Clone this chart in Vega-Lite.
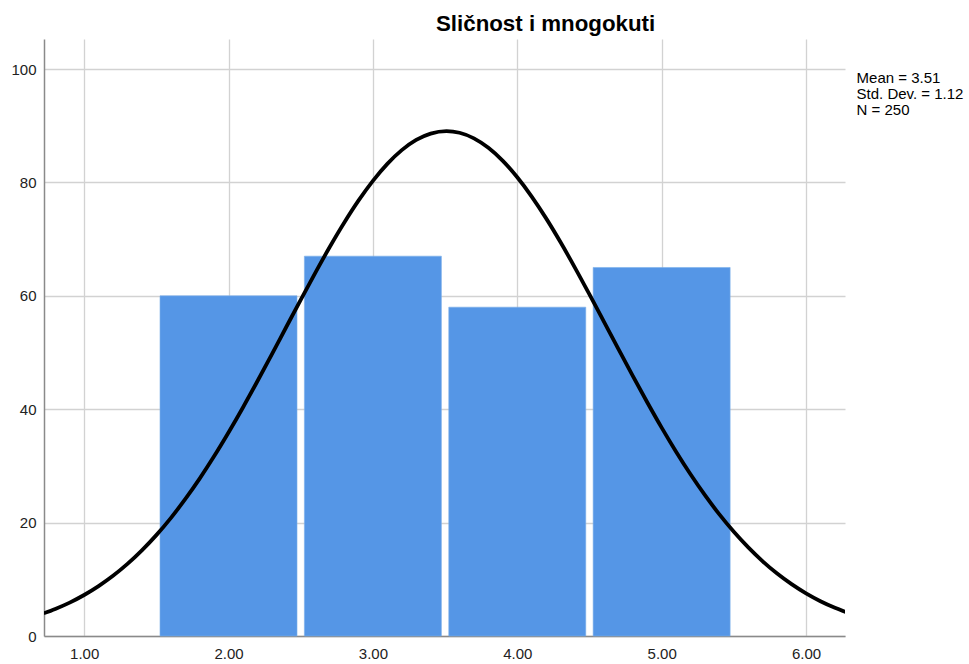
{
  "$schema": "https://vega.github.io/schema/vega-lite/v6.json",
  "width": 801,
  "height": 597,
  "autosize": {"type": "none"},
  "padding": {"left": 44, "top": 39, "right": 124, "bottom": 28},
  "background": "white",
  "title": {
    "text": "Sličnost i mnogokuti",
    "anchor": "start",
    "dx": 425,
    "offset": 4,
    "font": "Liberation Sans",
    "fontSize": 22.3,
    "fontWeight": "bold",
    "color": "#000000"
  },
  "config": {
    "view": {"stroke": null},
    "axis": {
      "labelFont": "Liberation Sans",
      "labelFontSize": 15,
      "labelColor": "#222222",
      "gridColor": "#d2d2d2",
      "gridWidth": 1.3,
      "domainColor": "#8a8a8a",
      "domainWidth": 1.5,
      "ticks": false,
      "title": null
    }
  },
  "datasets": {
    "bars": [
      {"value": 2, "count": 60},
      {"value": 3, "count": 67},
      {"value": 4, "count": 58},
      {"value": 5, "count": 65}
    ],
    "curve": [
      {"x": 0.72, "y": 4.00}, {"x": 0.8, "y": 4.77}, {"x": 0.9, "y": 5.89}, {"x": 1.0, "y": 7.23},
      {"x": 1.1, "y": 8.80}, {"x": 1.2, "y": 10.61}, {"x": 1.3, "y": 12.71}, {"x": 1.4, "y": 15.10},
      {"x": 1.5, "y": 17.79}, {"x": 1.6, "y": 20.80}, {"x": 1.7, "y": 24.13}, {"x": 1.8, "y": 27.76},
      {"x": 1.9, "y": 31.69}, {"x": 2.0, "y": 35.89}, {"x": 2.1, "y": 40.31}, {"x": 2.2, "y": 44.93},
      {"x": 2.3, "y": 49.68}, {"x": 2.4, "y": 54.50}, {"x": 2.5, "y": 59.30}, {"x": 2.6, "y": 64.01},
      {"x": 2.7, "y": 68.56}, {"x": 2.8, "y": 72.84}, {"x": 2.9, "y": 76.78}, {"x": 3.0, "y": 80.28},
      {"x": 3.1, "y": 83.28}, {"x": 3.2, "y": 85.70}, {"x": 3.3, "y": 87.50}, {"x": 3.4, "y": 88.62},
      {"x": 3.51, "y": 89.05}, {"x": 3.6, "y": 88.76}, {"x": 3.7, "y": 87.78}, {"x": 3.8, "y": 86.11},
      {"x": 3.9, "y": 83.81}, {"x": 4.0, "y": 80.92}, {"x": 4.1, "y": 77.51}, {"x": 4.2, "y": 73.66},
      {"x": 4.3, "y": 69.44}, {"x": 4.4, "y": 64.94}, {"x": 4.5, "y": 60.25}, {"x": 4.6, "y": 55.46},
      {"x": 4.7, "y": 50.64}, {"x": 4.8, "y": 45.87}, {"x": 4.9, "y": 41.23}, {"x": 5.0, "y": 36.75},
      {"x": 5.1, "y": 32.51}, {"x": 5.2, "y": 28.52}, {"x": 5.3, "y": 24.83}, {"x": 5.4, "y": 21.44},
      {"x": 5.5, "y": 18.37}, {"x": 5.6, "y": 15.62}, {"x": 5.7, "y": 13.17}, {"x": 5.8, "y": 11.01},
      {"x": 5.9, "y": 9.14}, {"x": 6.0, "y": 7.52}, {"x": 6.1, "y": 6.14}, {"x": 6.2, "y": 4.98},
      {"x": 6.28, "y": 4.18}
    ]
  },
  "layer": [
    {
      "data": {"name": "bars"},
      "mark": {"type": "bar", "color": "#5596e6", "stroke": "#7aaeea", "strokeWidth": 0.6, "width": 137},
      "encoding": {
        "x": {
          "field": "value",
          "type": "quantitative",
          "scale": {"domain": [0.722, 6.27], "nice": false, "zero": false, "padding": 0},
          "axis": {"values": [1, 2, 3, 4, 5, 6], "format": ".2f", "labelPadding": 10}
        },
        "y": {
          "field": "count",
          "type": "quantitative",
          "scale": {"domain": [0, 105.3], "nice": false, "padding": 0},
          "axis": {"values": [0, 20, 40, 60, 80, 100], "labelPadding": 8}
        }
      }
    },
    {
      "data": {"name": "curve"},
      "mark": {"type": "line", "color": "#000000", "strokeWidth": 3.8, "interpolate": "monotone", "clip": true},
      "encoding": {
        "x": {"field": "x", "type": "quantitative", "scale": {"domain": [0.722, 6.27], "nice": false, "zero": false, "padding": 0}},
        "y": {"field": "y", "type": "quantitative", "scale": {"domain": [0, 105.3], "nice": false, "padding": 0}}
      }
    },
    {
      "data": {"values": [{"lines": ["Mean = 3.51", "Std. Dev. = 1.12", "N = 250"]}]},
      "mark": {
        "type": "text",
        "align": "left",
        "baseline": "alphabetic",
        "font": "Liberation Sans",
        "fontSize": 15,
        "lineHeight": 16,
        "color": "#000000",
        "clip": false
      },
      "encoding": {
        "x": {"datum": 6.35, "scale": {"domain": [0.722, 6.27], "nice": false, "zero": false, "padding": 0}},
        "y": {"datum": 97.5, "scale": {"domain": [0, 105.3], "nice": false, "padding": 0}},
        "text": {"field": "lines"}
      }
    }
  ]
}
